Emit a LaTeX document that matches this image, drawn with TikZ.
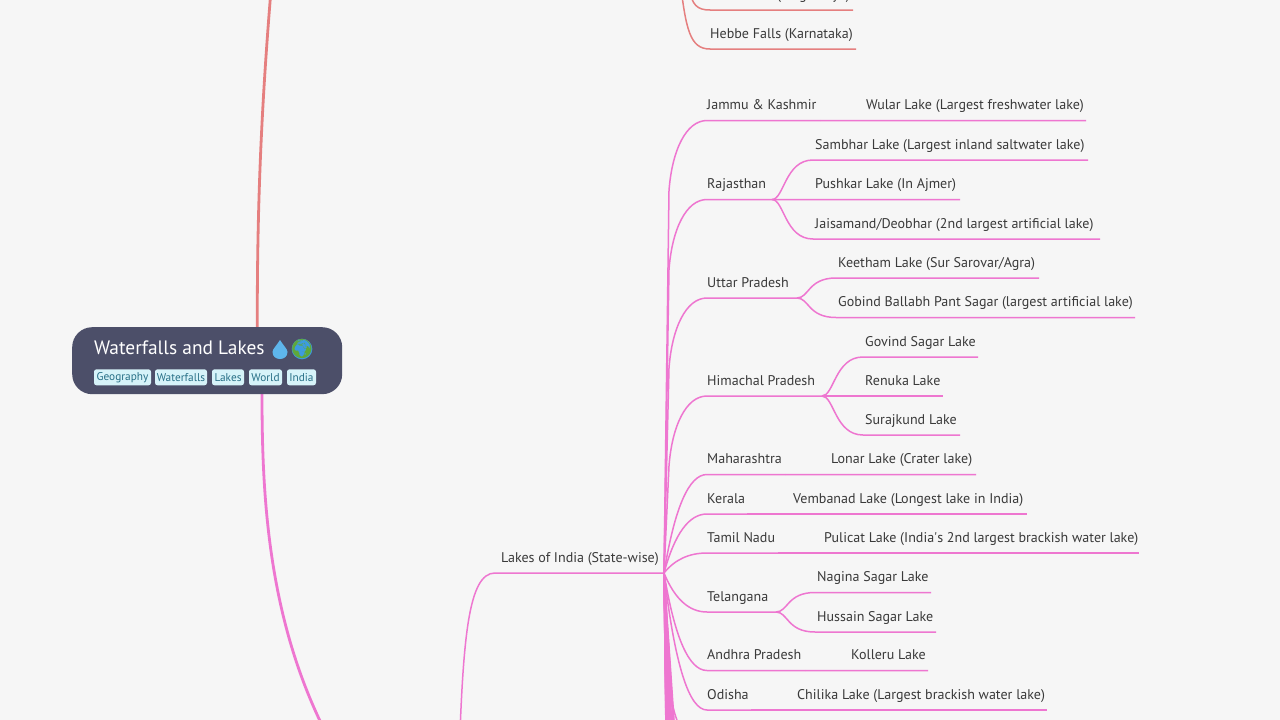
\documentclass[tikz,border=0pt]{standalone}
\usepackage{fontspec}
\setmainfont{PT Sans}
\newfontfamily\plainfont{PT Sans}
\newfontfamily\emojifont{Noto Emoji}
\usetikzlibrary{calc}
\definecolor{bgc}{HTML}{F6F6F6}
\definecolor{rootc}{HTML}{4C4F69}
\definecolor{pinkc}{HTML}{EE76D0}
\definecolor{redc}{HTML}{E57F7F}
\definecolor{txtc}{HTML}{3A3A3A}
\definecolor{tagbg}{HTML}{D6F3F9}
\definecolor{tagtx}{HTML}{276F86}
\definecolor{dropc}{HTML}{5EB6EC}
\definecolor{seac}{HTML}{3D9BE0}
\definecolor{landc}{HTML}{5FA83A}
\tikzset{
  x=1pt,y=-1pt,
  lab/.style={inner sep=0pt,anchor=base west,text=txtc,font=\fontsize{14.05}{16}\selectfont},
  pinkline/.style={draw=pinkc,line width=1.5pt},
  redline/.style={draw=redc,line width=1.5pt},
  tagbox/.style={fill=tagbg,rounded corners=2.5pt,inner sep=0pt,text=tagtx,minimum height=16pt,font=\fontsize{11.3}{12}\selectfont},
}
\newcommand\leaf[5]{%
  \node[lab] (#1) at (#2,#4-11) {#5};
  \coordinate (#1s) at (#2,#4);
  \coordinate (#1e) at (#3,#4);}
\newcommand\tall[2]{%
  \draw[pinkline,line join=round] (hub) -- ($(#1s)+(-38,#2)$)
    .. controls ($(#1s)+(-35,#2*0.43)$) and ($(#1s)+(-21,0)$) .. (#1s) -- (#1e);}
\newcommand\short[1]{%
  \coordinate (k) at ($(#1s)+(-27,0)$);
  \draw[pinkline] (hub) .. controls ($(hub)!.667!(k)$) and ($(#1s)!.667!(k)$) .. (#1s) -- (#1e);}
\newcommand\sub[2]{%
  \draw[pinkline] (#1e) .. controls +(12,0) and +(-28,0) .. ($(#2s)+(-2,0)$) -- (#2e);}
\newcommand\subs[2]{\draw[pinkline] (#1e) .. controls ($(#1e)!.3!(#2s)$) and ($(#1e)!.7!(#2s)$) .. (#2s) -- (#2e);}
\newcommand\off[2]{%
  \coordinate (o) at (707,#1);
  \draw[pinkline] (hub) -- ($(o)+(#2,-70)$)
    .. controls ($(o)+(-35,-30)$) and ($(o)+(-21,0)$) .. (o);}
\begin{document}
\begin{tikzpicture}
\useasboundingbox (0,0) rectangle (1280,720);
\fill[bgc] (0,0) rectangle (1280,720);
\clip (0,0) rectangle (1280,720);

\coordinate (rootT) at (257.3,327);
\coordinate (rootB) at (262,394);
\coordinate (redFar) at (271,-10);
\coordinate (pinkFar) at (335,750);
\draw[draw=redc,line width=2.8pt] (rootT) .. controls (257,200) and (262,100) .. (redFar);
\draw[draw=pinkc,line width=2.8pt] (rootB) .. controls (262,500) and (268,630) .. (pinkFar);
\node[fill=rootc,rounded corners=20pt,minimum width=270pt,minimum height=67pt,inner sep=0pt,anchor=north west] (root) at (72,327) {};
\node[inner sep=0pt,anchor=base west,text=white,font=\fontsize{19.4}{22}\selectfont] (title) at (94,354) {Waterfalls and Lakes};
\fill[dropc] (280,340) .. controls (283,345) and (287.5,349) .. (287.5,352)
  .. controls (287.5,356.5) and (284,359) .. (280,359)
  .. controls (276,359) and (272.5,356.5) .. (272.5,352)
  .. controls (272.5,349) and (277,345) .. (280,340) -- cycle;
\node[inner sep=0pt,text=dropc,font=\emojifont\fontsize{14}{16}\selectfont] (drop) at (280,350) {💧};
\fill[seac] (302,349) circle (10.3);
\node[inner sep=0pt,text=landc,font=\emojifont\fontsize{19}{20}\selectfont] (globe) at (302,349) {🌍};
\node[tagbox,minimum width=57pt] (t1) at (122.5,377.3) {Geography};
\node[tagbox,minimum width=52pt] (t2) at (181,377.3) {Waterfalls};
\node[tagbox,minimum width=32pt] (t3) at (228,377.3) {Lakes};
\node[tagbox,minimum width=33pt] (t4) at (265.5,377.3) {World};
\node[tagbox,minimum width=29pt] (t5) at (301.5,377.3) {India};

\node[lab,anchor=base east] (meg) at (850,-1) {Nohkalikai Falls (Meghalaya)};
\coordinate (megs) at (710,10);
\coordinate (mege) at (853,10);
\leaf{heb}{710}{856}{49}{Hebbe Falls (Karnataka)}
\coordinate (redA) at (689,-12);
\coordinate (redB) at (680,-20);
\draw[redline] (redA) .. controls (692,5) and (697,10) .. (megs) -- (mege);
\draw[redline] (redB) .. controls (686,30) and (690,49) .. (hebs) -- (hebe);

\node[lab,anchor=base east] (lakes) at (659,562) {Lakes of India (State-wise)};
\coordinate (hub) at (664,573);
\coordinate (lakesFar) at (459,760);
\draw[pinkline] (lakesFar) .. controls (463,640) and (468,573) .. (495,573) -- (hub);

\leaf{jk}{707}{820}{120.5}{Jammu \& Kashmir}
\leaf{wu}{866}{1086}{120.5}{Wular Lake (Largest freshwater lake)}
\leaf{raj}{707}{772}{199.5}{Rajasthan}
\leaf{sam}{815}{1088}{160}{Sambhar Lake (Largest inland saltwater lake)}
\leaf{pus}{815}{960}{199.5}{Pushkar Lake (In Ajmer)}
\leaf{jai}{815}{1100}{239}{Jaisamand/Deobhar (2nd largest artificial lake)}
\leaf{up}{707}{797}{298}{Uttar Pradesh}
\leaf{kee}{838}{1039}{278}{Keetham Lake (Sur Sarovar/Agra)}
\leaf{gob}{838}{1135}{317.5}{Gobind Ballabh Pant Sagar (largest artificial lake)}
\leaf{hp}{707}{822}{396}{Himachal Pradesh}
\leaf{gov}{865}{978}{357}{Govind Sagar Lake}
\leaf{ren}{865}{943}{396}{Renuka Lake}
\leaf{sur}{865}{960}{435}{Surajkund Lake}
\leaf{mh}{707}{785}{474.5}{Maharashtra}
\leaf{lon}{831}{976}{474.5}{Lonar Lake (Crater lake)}
\leaf{ke}{707}{747}{514}{Kerala}
\leaf{vem}{793}{1027}{514}{Vembanad Lake (Longest lake in India)}
\leaf{tn}{707}{778}{553}{Tamil Nadu}
\leaf{pul}{824}{1139}{553}{Pulicat Lake (India{\plainfont'}s 2nd largest brackish water lake)}
\leaf{tg}{707}{776}{612}{Telangana}
\leaf{nag}{817}{931}{592.5}{Nagina Sagar Lake}
\leaf{hus}{817}{936}{632}{Hussain Sagar Lake}
\leaf{ap}{707}{805}{670.5}{Andhra Pradesh}
\leaf{kol}{851}{928}{670.5}{Kolleru Lake}
\leaf{od}{707}{751}{710}{Odisha}
\leaf{chi}{797}{1047}{710}{Chilika Lake (Largest brackish water lake)}

\tall{jk}{70}\tall{raj}{70}\tall{up}{70}\tall{hp}{70}
\short{mh}\short{ke}\short{tn}\short{tg}\short{ap}\short{od}
\subs{jk}{wu}
\sub{raj}{sam}\subs{raj}{pus}\sub{raj}{jai}
\sub{up}{kee}\sub{up}{gob}
\sub{hp}{gov}\subs{hp}{ren}\sub{hp}{sur}
\subs{mh}{lon}\subs{ke}{vem}\subs{tn}{pul}
\sub{tg}{nag}\sub{tg}{hus}
\subs{ap}{kol}\subs{od}{chi}

\foreach \yy/\dd in {750/-38,768/-38,790/-33,800/-33,810/-33,820/-34,830/-34,840/-35,850/-35,860/-35,870/-36,880/-36,890/-36,900/-37,910/-37,930/-37,950/-38,970/-38,990/-38,1010/-38,1030/-38,1050/-38} {\off{\yy}{\dd}}
\end{tikzpicture}
\end{document}
